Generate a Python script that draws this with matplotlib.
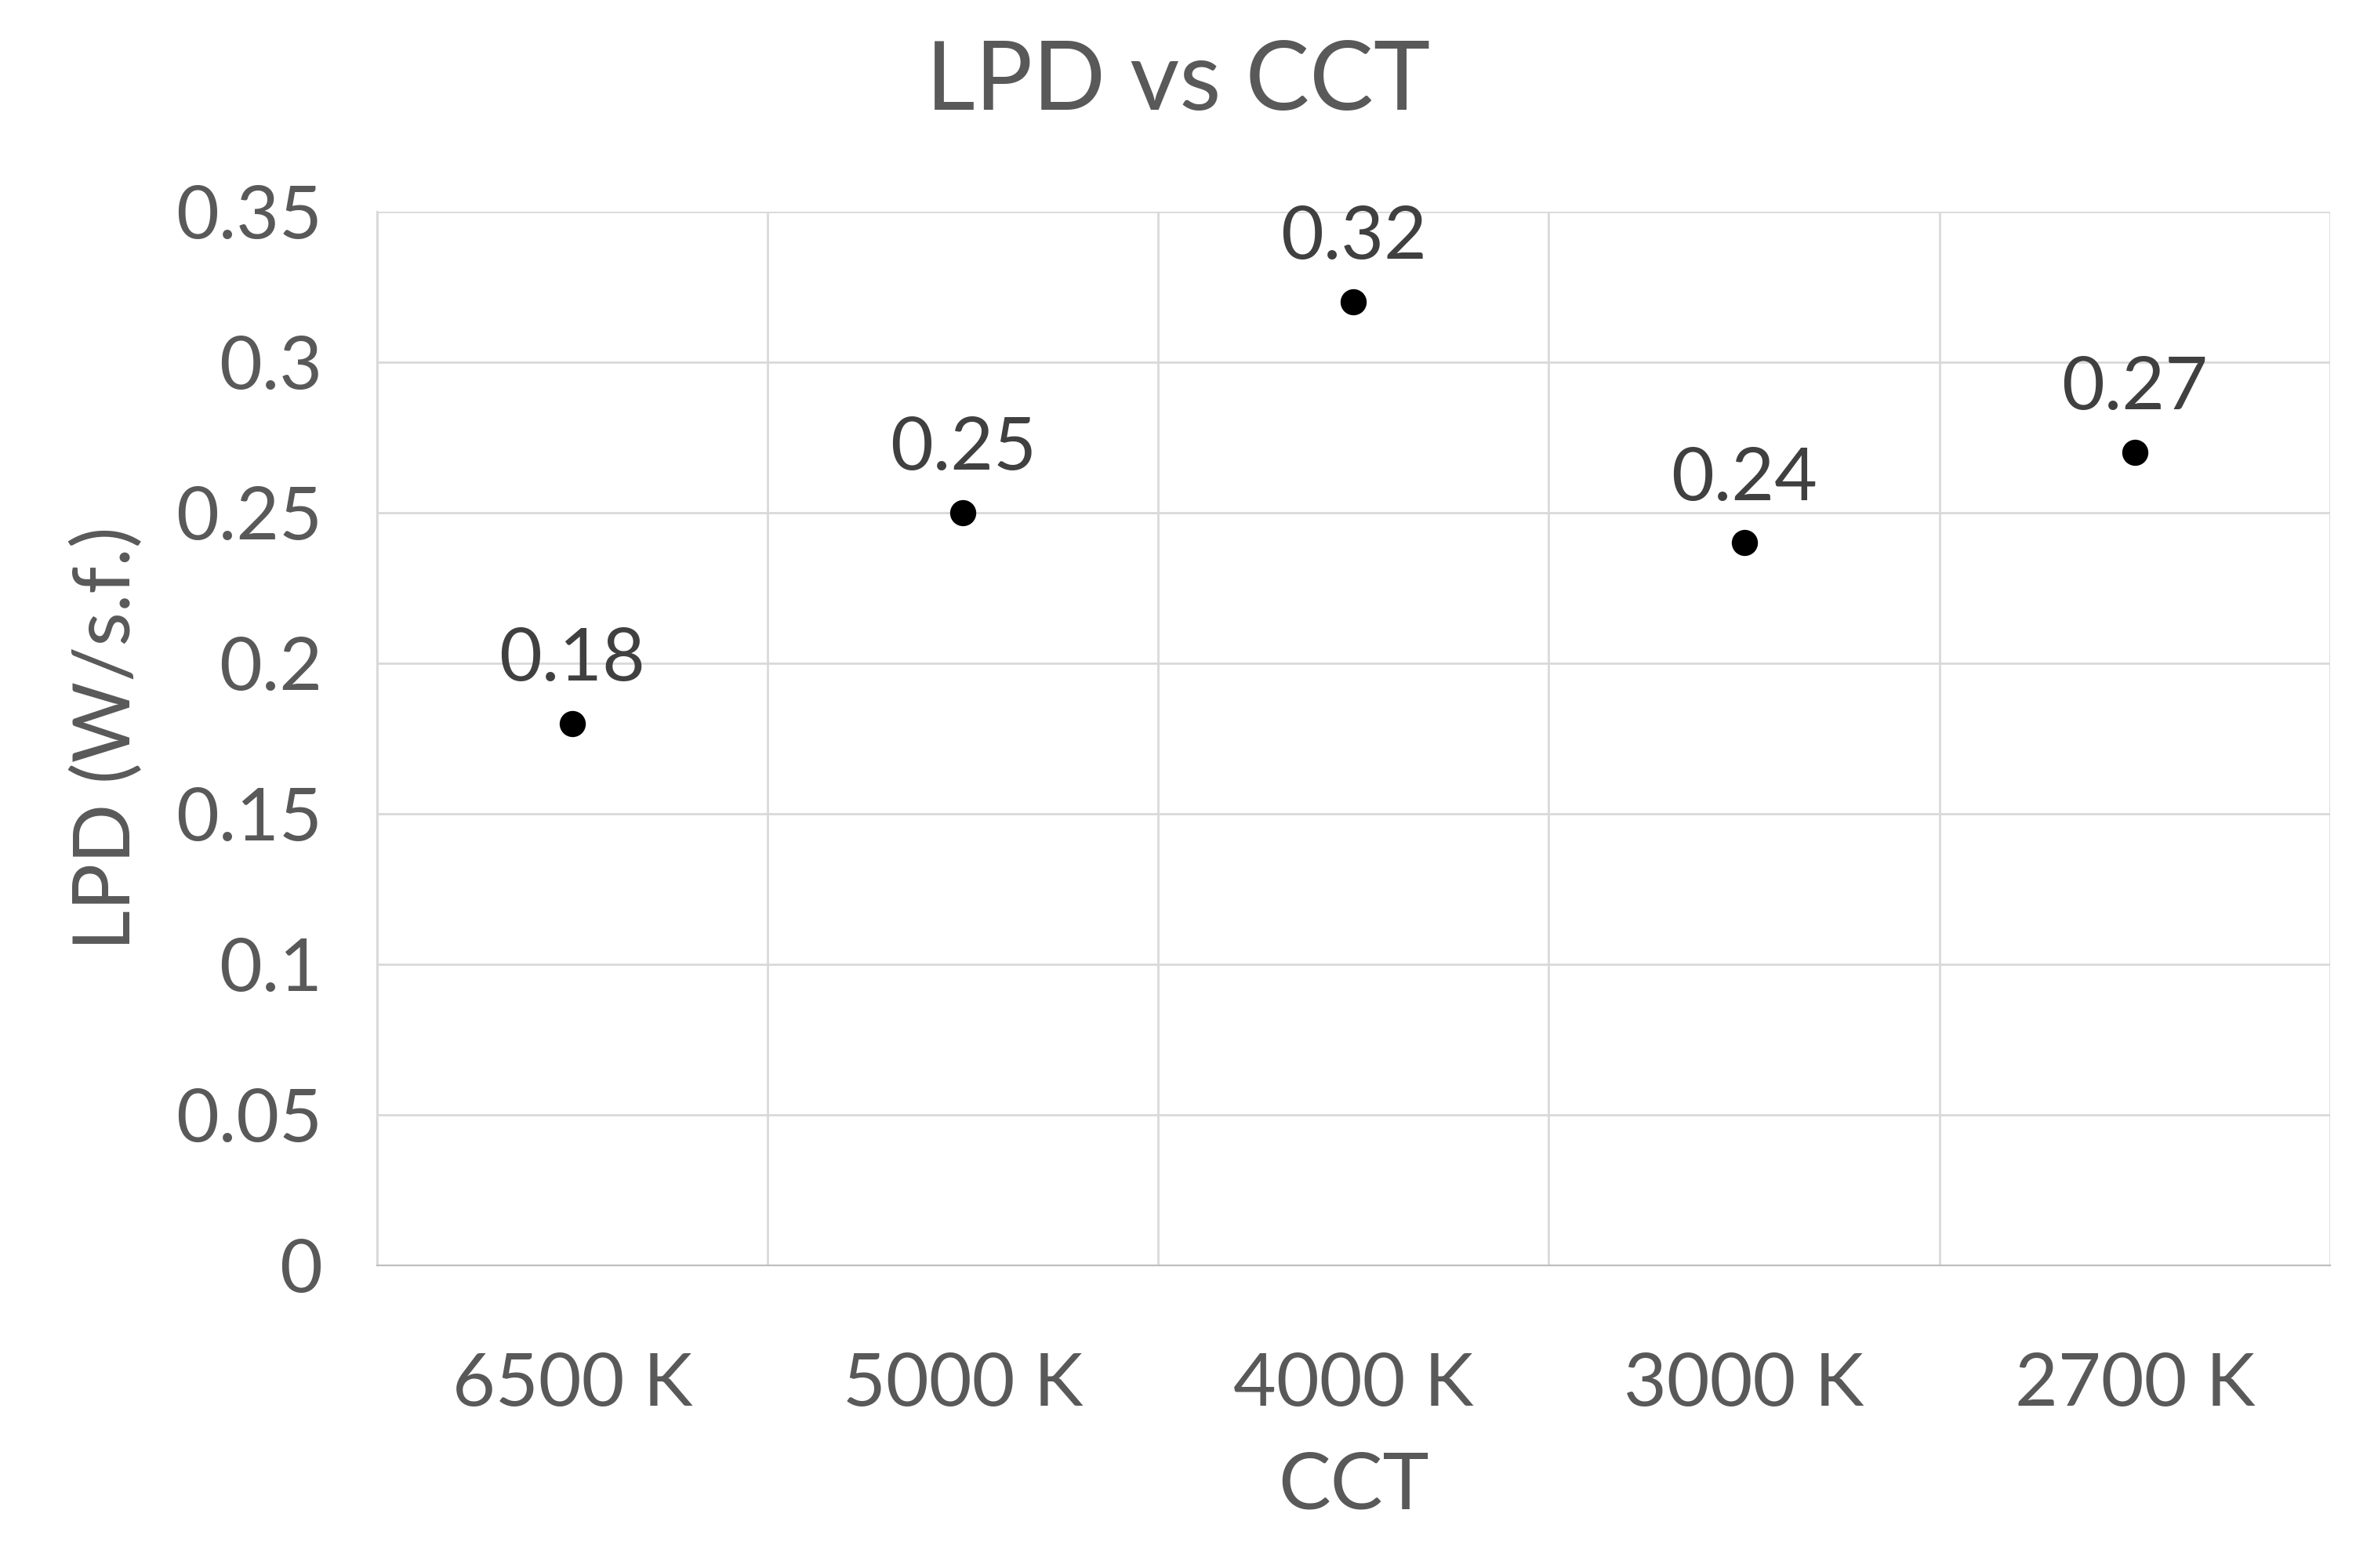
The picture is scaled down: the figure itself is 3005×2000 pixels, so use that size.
import matplotlib
matplotlib.use("Agg")
import matplotlib.pyplot as plt

categories = ["6500 K", "5000 K", "4000 K", "3000 K", "2700 K"]
lpd = [0.18, 0.25, 0.32, 0.24, 0.27]
yticks = [0, 0.05, 0.1, 0.15, 0.2, 0.25, 0.3, 0.35]
ylabels = ["0", "0.05", "0.1", "0.15", "0.2", "0.25", "0.3", "0.35"]

plt.rcParams['font.family'] = ['Lato', 'DejaVu Sans']
tc = "#595959"
fig = plt.figure(figsize=(15.025, 10), dpi=200)
ax = fig.add_axes([0.160, 0.193, 0.829, 0.672])
xs = [i + 0.5 for i in range(len(categories))]
ax.plot(xs, lpd, 'o', color='black', markersize=11, zorder=3)
for x, v in zip(xs, lpd):
    ax.annotate(f"{v:.2f}", (x, v), xytext=(0, 14), textcoords='offset points',
                ha='center', va='bottom', fontsize=34, color='#404040')
ax.set_xlim(0, 5)
ax.set_ylim(0, 0.35)
ax.set_yticks(yticks)
ax.set_yticklabels(ylabels)
ax.set_xticks(range(6), minor=False)
ax.set_xticklabels([""] * 6)
ax.set_xticks(xs, minor=True)
ax.set_xticklabels(categories, minor=True)
ax.grid(True, which='major', color='#d9d9d9', linewidth=1)
ax.set_axisbelow(True)
ax.tick_params(which='both', length=0, labelsize=34, labelcolor=tc)
ax.tick_params(axis='x', which='minor', pad=40)
ax.tick_params(axis='y', pad=25)
for s in ['top', 'right']:
    ax.spines[s].set_visible(False)
ax.spines['left'].set_color('#d9d9d9')
ax.spines['bottom'].set_color('#bfbfbf')
ax.set_xlabel("CCT", fontsize=36, color=tc, labelpad=15)
ax.set_ylabel("LPD (W/s.f.)", fontsize=36, color=tc, labelpad=15)
fig.suptitle("LPD vs CCT", fontsize=44, color=tc, y=0.975)
fig.savefig("out.png")
